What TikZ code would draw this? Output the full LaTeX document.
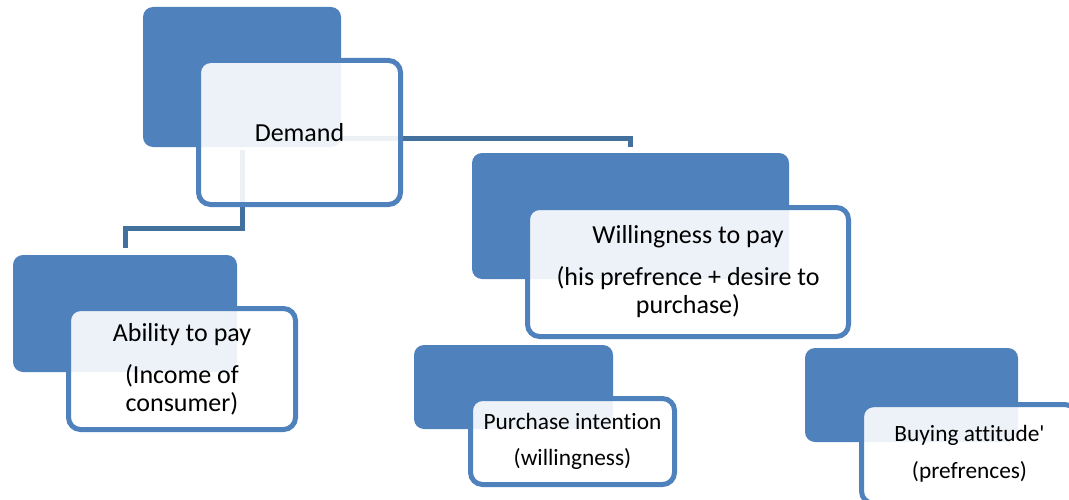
\documentclass[tikz,border=0pt]{standalone}
\usepackage{fontspec}
\setmainfont{Carlito}[Ligatures=NoCommon]
\usetikzlibrary{calc,backgrounds}
\definecolor{boxblue}{HTML}{4F81BD}
\definecolor{linkblue}{HTML}{41719C}

\begin{document}
\begin{tikzpicture}
[x=0.75pt,y=-0.75pt,
back/.style ={rectangle, fill=boxblue, rounded corners=7.5pt, inner sep=0pt},
front/.style ={rectangle, draw=boxblue, line width=3.75pt, fill=white,
fill opacity=0.9, text opacity=1, rounded corners=9pt,
align=center, inner sep=0pt, font=\fontsize{19.5}{21}\selectfont},
small/.style ={font=\fontsize{17.5}{19}\selectfont},
link/.style ={draw=linkblue, line width=3.75pt}]
\useasboundingbox (0,0) rectangle (1069,499);
\clip (0,0) rectangle (1069,499);
% back boxes
\node [back, minimum width=148.5pt, minimum height=105pt]   (demback)  at (242,77) {};
\node [back, minimum width=168pt, minimum height=87.75pt]   (ablback)  at (125,313.5) {};
\node [back, minimum width=237.75pt, minimum height=94.5pt] (willback) at (630.5,216) {};
\node [back, minimum width=149.25pt, minimum height=63pt]   (purback)  at (513.5,387) {};
\node [back, minimum width=159.75pt, minimum height=70.5pt] (buyback)  at (911.5,395) {};
% front boxes with the text
\node [front, minimum width=151.5pt, minimum height=108pt]   (demfront)  at (299.5,132.5) {Demand};
\node [front, minimum width=170.25pt, minimum height=90.75pt] (ablfront)  at (182,369)
  {Ability to pay\\[10.5pt] (Income of\\ consumer)};
\node [front, minimum width=240.75pt, minimum height=96.75pt] (willfront) at (688,272)
  {Willingness to pay\\[10.5pt] (his prefrence + desire to\\ purchase)};
\node [front, small, minimum width=153pt, minimum height=64.5pt] (purfront) at (572.5,441.5)
  {Purchase intention\\[8.5pt] (willingness)};
\node [front, small, minimum width=162pt, minimum height=74pt] (buyfront) at (969.5,454)
  {Buying attitude\textquotesingle\\[8.5pt] (prefrences)};
\begin{scope}[on background layer]
\path [link] ($(demback.east)+(0,62)$) -| ($(willback.north)+(0,-6)$);
\path [link] ($(demback.south)+(0,3)$) |- ($(ablback.north)+(0,-26)$) -- ($(ablback.north)+(0,-7)$);
\end{scope}
\end{tikzpicture}
\end{document}
